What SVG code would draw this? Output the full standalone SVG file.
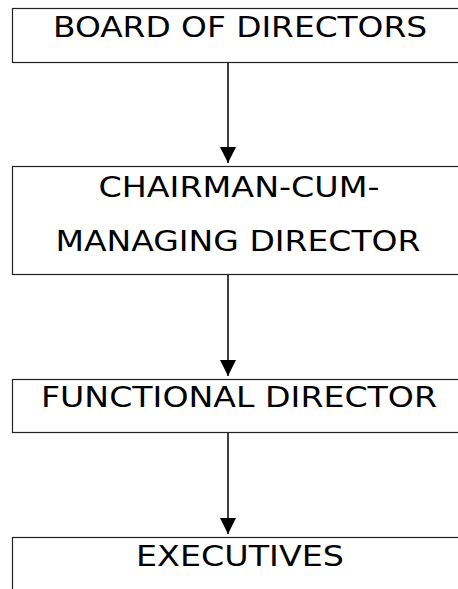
<svg xmlns="http://www.w3.org/2000/svg" width="458" height="589" viewBox="0 0 458 589">
<style>
.box{fill:#fff;stroke:#222;stroke-width:1.2}
.t{font-family:"DejaVu Sans","Verdana",sans-serif;font-size:28.5px;fill:#000;text-anchor:middle}
.c{stroke:#000;stroke-width:1.5;fill:none}
</style>
<defs>
<marker id="ah" markerUnits="userSpaceOnUse" markerWidth="16" markerHeight="16" viewBox="0 0 16 16" refX="16" refY="8" orient="auto">
<path d="M0,0 L16,8 L0,16 Z" fill="#000"/>
</marker>
</defs>
<rect width="458" height="589" fill="#fff"/>
<g id="board">
<rect class="box" x="12.5" y="8.5" width="460" height="54"/>
<text class="t" x="240" y="37" textLength="374" lengthAdjust="spacingAndGlyphs">BOARD OF DIRECTORS</text>
</g>
<g id="cmd">
<rect class="box" x="12.5" y="166.5" width="460" height="108"/>
<text class="t" x="239" y="197" textLength="281" lengthAdjust="spacingAndGlyphs">CHAIRMAN-CUM-</text>
<text class="t" x="238" y="251" textLength="365" lengthAdjust="spacingAndGlyphs">MANAGING DIRECTOR</text>
</g>
<g id="functional">
<rect class="box" x="12.5" y="379.5" width="460" height="53"/>
<text class="t" x="239" y="407" textLength="396" lengthAdjust="spacingAndGlyphs">FUNCTIONAL DIRECTOR</text>
</g>
<g id="executives">
<rect class="box" x="12.5" y="537.5" width="460" height="80"/>
<text class="t" x="240" y="566" textLength="208" lengthAdjust="spacingAndGlyphs">EXECUTIVES</text>
</g>
<g id="connectors">
<line class="c" x1="228" y1="63" x2="228" y2="163" marker-end="url(#ah)"/>
<line class="c" x1="228" y1="275" x2="228" y2="376" marker-end="url(#ah)"/>
<line class="c" x1="228" y1="433" x2="228" y2="534" marker-end="url(#ah)"/>
</g>
</svg>
